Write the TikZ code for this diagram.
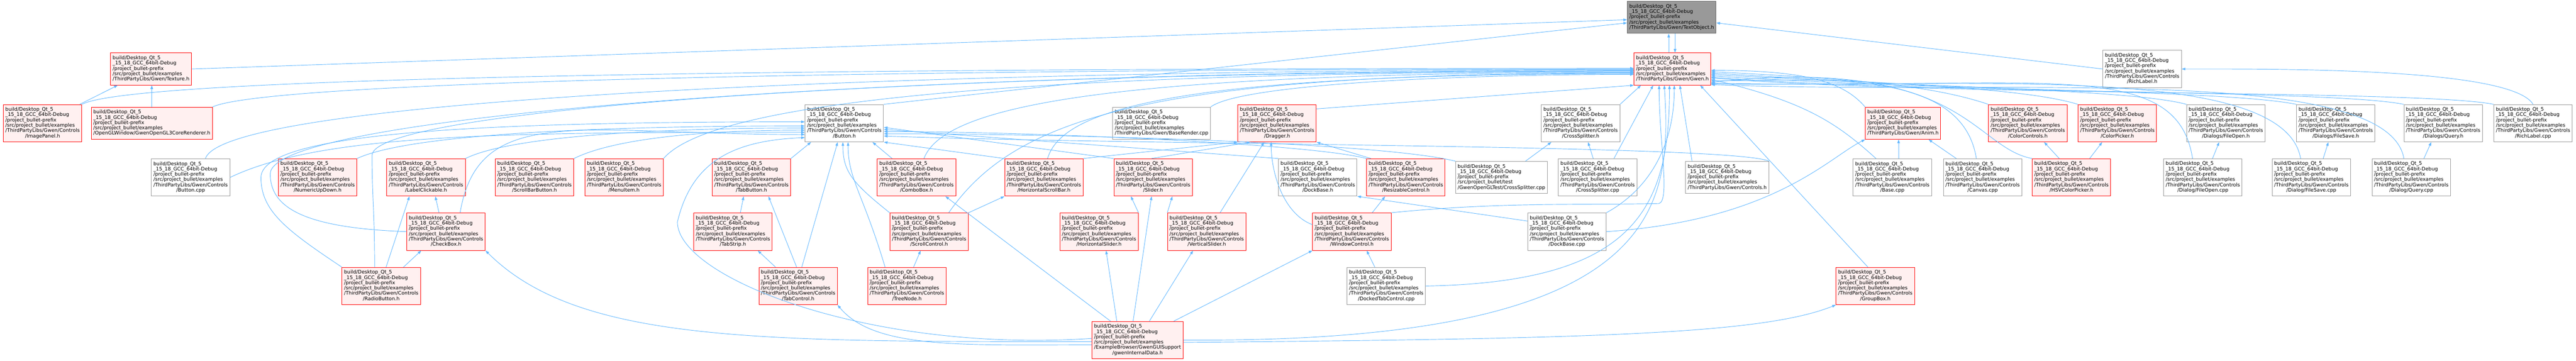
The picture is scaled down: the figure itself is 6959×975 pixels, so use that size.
\documentclass[tikz,border=0pt]{standalone}
\usepackage{fontspec}
\setmainfont{DejaVu Sans}
\usetikzlibrary{arrows.meta}
\definecolor{edgeblue}{HTML}{63B8FF}
\definecolor{nodepink}{HTML}{FFF0F0}
\definecolor{nodegrey}{HTML}{999999}
\definecolor{rootborder}{HTML}{666666}
\newcommand{\gwenfont}{\fontsize{13.3}{14}\selectfont}
\newcommand{\gwenfile}[1]{\begin{tabular}{@{}l@{}}build/Desktop\_Qt\_5\\\_15\_18\_GCC\_64bit-Debug\\/project\_bullet-prefix\\#1\end{tabular}}
\newcommand{\gwenlib}[1]{\gwenfile{/src/project\_bullet/examples\\/ThirdPartyLibs/Gwen/#1}}
\newcommand{\gwenctl}[1]{\gwenfile{/src/project\_bullet/examples\\/ThirdPartyLibs/Gwen/Controls\\\multicolumn{1}{@{}c@{}}{/#1}}}
\tikzset{
  gwenbox/.style={draw=nodegrey, fill=white, line width=1.4pt, inner xsep=5.5pt, inner ysep=7.5pt, font=\gwenfont, text=black},
  gwentrunc/.style={gwenbox, draw=red, fill=nodepink},
  gwenroot/.style={gwenbox, draw=rootborder, fill=nodegrey},
  incl/.style={draw=edgeblue, line width=1.3pt, -{Triangle[length=10pt,width=7pt]}}
}
\begin{document}
\begin{tikzpicture}[x=1pt,y=1pt,yscale=-1,xscale=1]
\useasboundingbox (0,0) rectangle (6959,975);

%Shape: Rectangle [TextObject.h]
\node[gwenroot] (textobj) at (4516,47) {\gwenlib{TextObject.h}};
%Shape: Rectangle [row 1]
\node[gwentrunc] (texture) at (408,186.5) {\gwenlib{Texture.h}};
\node[gwentrunc] (gwen) at (4518,186.5) {\gwenlib{Gwen.h}};
\node[gwenbox] (richlabelh) at (5787,186.5) {\gwenctl{RichLabel.h}};
%Shape: Rectangle [row 2]
\node[gwentrunc] (imagepanel) at (115,333) {\gwenctl{ImagePanel.h}};
\node[gwentrunc] (gl3) at (410,333) {\gwenfile{/src/project\_bullet/examples\\/OpenGLWindow/GwenOpenGL3CoreRenderer.h}};
\node[gwenbox] (buttonh) at (2281,333) {\gwenctl{Button.h}};
\node[gwenbox] (baserendercpp) at (3138,333) {\gwenlib{BaseRender.cpp}};
\node[gwentrunc] (dragger) at (3450,333) {\gwenctl{Dragger.h}};
\node[gwenbox] (crosssplitterh) at (4270,333) {\gwenctl{CrossSplitter.h}};
\node[gwentrunc] (anim) at (5141,333) {\gwenlib{Anim.h}};
\node[gwentrunc] (colorcontrols) at (5478,333) {\gwenctl{ColorControls.h}};
\node[gwentrunc] (colorpicker) at (5720,333) {\gwenctl{ColorPicker.h}};
\node[gwenbox] (fileopenh) at (6013,333) {\gwenctl{Dialogs/FileOpen.h}};
\node[gwenbox] (filesaveh) at (6310,333) {\gwenctl{Dialogs/FileSave.h}};
\node[gwenbox] (queryh) at (6600,333) {\gwenctl{Dialogs/Query.h}};
\node[gwenbox] (richlabelcpp) at (6843,333) {\gwenctl{RichLabel.cpp}};
%Shape: Rectangle [row 3]
\node[gwenbox] (buttoncpp) at (515,479.5) {\gwenctl{Button.cpp}};
\node[gwentrunc] (numericupdown) at (858,479.5) {\gwenctl{NumericUpDown.h}};
\node[gwentrunc] (labelclickable) at (1151,479.5) {\gwenctl{LabelClickable.h}};
\node[gwentrunc] (scrollbarbutton) at (1444,479.5) {\gwenctl{ScrollBarButton.h}};
\node[gwentrunc] (menuitem) at (1686,479.5) {\gwenctl{MenuItem.h}};
\node[gwentrunc] (tabbutton) at (2030,479.5) {\gwenctl{TabButton.h}};
\node[gwentrunc] (combobox) at (2476,479.5) {\gwenctl{ComboBox.h}};
\node[gwentrunc] (hscrollbar) at (2820,479.5) {\gwenctl{HorizontalScrollBar.h}};
\node[gwentrunc] (slider) at (3115,479.5) {\gwenctl{Slider.h}};
\node[gwenbox] (dockbaseh) at (3560,479.5) {\gwenctl{DockBase.h}};
\node[gwentrunc] (resizablecontrol) at (3798,479.5) {\gwenctl{ResizableControl.h}};
\node[gwenbox] (testcrosssplitter) at (4056,479.5) {\gwenfile{/src/project\_bullet/test\\/GwenOpenGLTest/CrossSplitter.cpp}};
\node[gwenbox] (crosssplittercpp) at (4316,479.5) {\gwenctl{CrossSplitter.cpp}};
\node[gwenbox] (controlsh) at (4666,479.5) {\gwenlib{Controls.h}};
\node[gwenbox] (basecpp) at (5112,479.5) {\gwenctl{Base.cpp}};
\node[gwenbox] (canvascpp) at (5356,479.5) {\gwenctl{Canvas.cpp}};
\node[gwentrunc] (hsvcolorpicker) at (5596,479.5) {\gwenctl{HSVColorPicker.h}};
\node[gwenbox] (fileopencpp) at (5951,479.5) {\gwenctl{Dialog/FileOpen.cpp}};
\node[gwenbox] (filesavecpp) at (6244,479.5) {\gwenctl{Dialog/FileSave.cpp}};
\node[gwenbox] (querycpp) at (6514,479.5) {\gwenctl{Dialog/Query.cpp}};
%Shape: Rectangle [row 4]
\node[gwentrunc] (checkbox) at (1205,626) {\gwenctl{CheckBox.h}};
\node[gwentrunc] (tabstrip) at (1980,626) {\gwenctl{TabStrip.h}};
\node[gwentrunc] (scrollcontrol) at (2510,626) {\gwenctl{ScrollControl.h}};
\node[gwentrunc] (hslider) at (2969,626) {\gwenctl{HorizontalSlider.h}};
\node[gwentrunc] (vslider) at (3260,626) {\gwenctl{VerticalSlider.h}};
\node[gwentrunc] (windowcontrol) at (3652,626) {\gwenctl{WindowControl.h}};
\node[gwenbox] (dockbasecpp) at (4233,626) {\gwenctl{DockBase.cpp}};
%Shape: Rectangle [row 5]
\node[gwentrunc] (radiobutton) at (1030,773) {\gwenctl{RadioButton.h}};
\node[gwentrunc] (tabcontrol) at (2156,773) {\gwenctl{TabControl.h}};
\node[gwentrunc] (treenode) at (2450,773) {\gwenctl{TreeNode.h}};
\node[gwenbox] (dockedtabcpp) at (3745,773) {\gwenctl{DockedTabControl.cpp}};
\node[gwentrunc] (groupbox) at (5066,773) {\gwenctl{GroupBox.h}};
%Shape: Rectangle [row 6]
\node[gwentrunc] (gid) at (3073,919) {\gwenfile{/src/project\_bullet/examples\\/ExampleBrowser/GwenGUISupport\\\multicolumn{1}{@{}c@{}}{/gwenInternalData.h}}};

%Coordinates: bends of the long curves
\coordinate (cbpass) at (730,470);
\coordinate (rbpass) at (705,480);
\coordinate (rbvert) at (1005,420);
\coordinate (gidpass) at (1830,600);
\coordinate (wcpass) at (4482,550);

%Edges: TextObject.h
\draw[incl] (texture.east) -- (textobj.183);
\draw[incl] (buttonh.north east) -- (textobj.187);
\draw[incl] (richlabelh.west) -- (textobj.-7);
\draw[incl] ([xshift=-10pt]gwen.north) -- ([xshift=-8pt]textobj.south);
\draw[incl] ([xshift=9pt]textobj.south) -- ([xshift=7pt]gwen.north);

%Edges: Texture.h
\draw[incl] ([xshift=-6pt]imagepanel.north east) -- ([xshift=-90pt]texture.south);
\draw[incl] (gl3.north) -- (gl3.north |- texture.south);

%Edges: Gwen.h from the left
\draw[incl] (imagepanel.north east) .. controls +(150,-80) and +(-2000,0) .. (gwen.179);
\draw[incl] (gl3.north east) .. controls +(150,-70) and +(-2000,0) .. (gwen.180);
\draw[incl] ([xshift=40pt]buttoncpp.north) .. controls +(50,-160) and +(-2000,0) .. (gwen.181);
\draw[incl] (checkbox.west) .. controls +(-280,-10) and +(0,90) .. (cbpass) .. controls +(0,-160) and +(-2000,0) .. (gwen.182);
\draw[incl] ([xshift=-18pt]radiobutton.north) .. controls +(0,-150) and +(0,110) .. (rbvert) .. controls +(0,-120) and +(-2000,0) .. (gwen.183);
\draw[incl] (menuitem.north east) .. controls +(120,-140) and +(-1800,0) .. (gwen.184);
\draw[incl] ([xshift=20pt]combobox.north) .. controls +(50,-130) and +(-1500,0) .. (gwen.185);
\draw[incl] ([xshift=53pt]scrollcontrol.north) .. controls +(180,-260) and +(-1300,0) .. (gwen.186);
\draw[incl] ([xshift=10pt]hscrollbar.north) .. controls +(40,-140) and +(-1200,0) .. (gwen.187);
\draw[incl] (baserendercpp.north east) .. controls +(80,-60) and +(-500,0) .. (gwen.188);
\draw[incl] (dragger.20) -- (gwen.south west);

%Edges: Gwen.h from below
\draw[incl] (crosssplitterh.north east) -- ([xshift=-85pt]gwen.south);
\draw[incl] ([xshift=44pt]crosssplittercpp.north) -- ([xshift=-52pt]gwen.south);
\draw[incl] (windowcontrol.north east) .. controls +(300,-30) and +(-200,5) .. (wcpass) .. controls +(30,-10) and +(0,150) .. ([xshift=-36pt]gwen.south);
\draw[incl] (gid.east) .. controls +(1300,10) and +(20,330) .. ([xshift=-22pt]gwen.south);
\draw[incl] (dockedtabcpp.east) .. controls +(570,-10) and +(0,330) .. ([xshift=-8pt]gwen.south);
\draw[incl] (dockbasecpp.north east) .. controls +(110,-60) and +(0,170) .. ([xshift=5pt]gwen.south);
\draw[incl] ([xshift=-95pt]controlsh.north) -- ([xshift=20pt]gwen.south);
\draw[incl] ([xshift=-20pt]groupbox.north) -- ([xshift=75pt]gwen.south);

%Edges: Gwen.h from the right
\draw[incl] (anim.north west) .. controls +(-60,-70) and +(250,0) .. (gwen.-2);
\draw[incl] (colorcontrols.north west) .. controls +(-150,-50) and +(400,20) .. (gwen.-4);
\draw[incl] (colorpicker.north west) .. controls +(-150,-45) and +(500,30) .. (gwen.-6);
\draw[incl] (fileopenh.north west) .. controls +(-150,-40) and +(600,35) .. (gwen.-8);
\draw[incl] (filesaveh.north west) .. controls +(-200,-40) and +(600,40) .. (gwen.-10);
\draw[incl] (queryh.north west) .. controls +(-200,-40) and +(600,45) .. (gwen.-12);
\draw[incl] (richlabelcpp.north west) .. controls +(-200,-40) and +(600,50) .. (gwen.-13);
\draw[incl] ([xshift=-44pt]basecpp.north) .. controls +(-110,-100) and +(250,60) .. (gwen.-15);
\draw[incl] ([xshift=-17pt]canvascpp.north) .. controls +(-39,-250) and +(280,0) .. (gwen.-17);
\draw[incl] (hsvcolorpicker.north west) .. controls +(-160,-30) and +(680,-72) .. (gwen.-19);
\draw[incl] ([xshift=-28pt]fileopencpp.north) .. controls +(-43,-280) and +(880,20) .. (gwen.-20);
\draw[incl] ([xshift=-29pt]filesavecpp.north) .. controls +(-45,-260) and +(700,10) .. (gwen.-21);
\draw[incl] ([xshift=-20pt]querycpp.north) .. controls +(-45,-260) and +(780,30) .. (gwen.-22);

%Edges: RichLabel, Anim, colour and dialog headers
\draw[incl] (richlabelcpp.north) .. controls +(-60,-100) and +(250,0) .. (richlabelh.east);
\draw[incl] ([xshift=17pt]basecpp.north) -- ([xshift=-12pt]anim.south);
\draw[incl] ([xshift=-71pt]canvascpp.north) -- ([xshift=69pt]anim.south);
\draw[incl] (dockbasecpp.east) .. controls +(450,-30) and +(-100,50) .. (anim.south west);
\draw[incl] ([xshift=-33pt]hsvcolorpicker.north) -- ([xshift=44pt]colorcontrols.south);
\draw[incl] ([xshift=49pt]hsvcolorpicker.north) -- ([xshift=-41pt]colorpicker.south);
\draw[incl] ([xshift=26pt]fileopencpp.north) -- ([xshift=-18pt]fileopenh.south);
\draw[incl] ([xshift=32pt]filesavecpp.north) -- ([xshift=-20pt]filesaveh.south);
\draw[incl] ([xshift=34pt]querycpp.north) -- ([xshift=-32pt]queryh.south);

%Edges: Button.h from the left
\draw[incl] (radiobutton.north west) .. controls +(-150,-100) and +(0,90) .. (rbpass) .. controls +(0,-120) and +(-900,0) .. (buttonh.178);
\draw[incl] (numericupdown.north east) .. controls +(150,-70) and +(-500,0) .. (buttonh.184);
\draw[incl] (labelclickable.north east) .. controls +(120,-60) and +(-400,0) .. (buttonh.187);
\draw[incl] (scrollbarbutton.north east) .. controls +(100,-50) and +(-300,0) .. (buttonh.190);
\draw[incl] (buttoncpp.east) .. controls +(250,-120) and +(-800,0) .. (buttonh.193);
\draw[incl] ([xshift=38pt]checkbox.north) .. controls +(50,-300) and +(-600,0) .. (buttonh.196);
\draw[incl] (gid.178) .. controls +(-600,40) and +(0,150) .. (gidpass) .. controls +(40,-170) and +(-185,8) .. (buttonh.200);

%Edges: Button.h from below
\draw[incl] (tabbutton.north east) -- ([xshift=-90pt]buttonh.south);
\draw[incl] ([xshift=10pt]tabcontrol.north) -- ([xshift=-18pt]buttonh.south);
\draw[incl] (scrollcontrol.north west) .. controls +(-100,-80) and +(0,80) .. ([xshift=-4pt]buttonh.south);
\draw[incl] ([xshift=-59pt]treenode.north) .. controls +(-60,-200) and +(0,100) .. ([xshift=10pt]buttonh.south);
\draw[incl] ([xshift=-66pt]combobox.north) -- ([xshift=76pt]buttonh.south);
\draw[incl] (hscrollbar.north west) -- (buttonh.south east);

%Edges: Button.h from the right
\draw[incl] (slider.north west) -- (buttonh.-6);
\draw[incl] (dockbaseh.north west) -- (buttonh.-9);
\draw[incl] (resizablecontrol.north west) .. controls +(-150,-40) and +(400,0) .. (buttonh.-12);
\draw[incl] (testcrosssplitter.north west) .. controls +(-200,-50) and +(500,0) .. (buttonh.-15);
\draw[incl] (controlsh.north east) .. controls +(-100,-45) and +(700,25) .. (buttonh.-18);

%Edges: Dragger.h and Slider.h
\draw[incl] (hscrollbar.north east) -- (dragger.south west);
\draw[incl] ([xshift=-4pt]slider.north) -- ([xshift=-72pt]dragger.south);
\draw[incl] ([xshift=36pt]vslider.north) -- ([xshift=-35pt]dragger.south);
\draw[incl] (windowcontrol.170) .. controls +(-80,-30) and +(0,80) .. ([xshift=-16pt]dragger.south);
\draw[incl] ([xshift=12pt]resizablecontrol.north west) -- (dragger.south east);
\draw[incl] (hslider.north east) -- ([xshift=-60pt]slider.south);
\draw[incl] (vslider.north west) -- ([xshift=52pt]slider.south);
\draw[incl] ([xshift=-12pt]gid.north) -- ([xshift=-4pt]slider.south);

%Edges: CrossSplitter, DockBase, WindowControl
\draw[incl] ([xshift=65pt]testcrosssplitter.north) -- ([xshift=-79pt]crosssplitterh.south);
\draw[incl] ([xshift=-12pt]crosssplittercpp.north) -- ([xshift=20pt]crosssplitterh.south);
\draw[incl] (dockbasecpp.165) -- (dockbaseh.south east);
\draw[incl] ([xshift=55pt]windowcontrol.north) -- ([xshift=-56pt]resizablecontrol.south);
\draw[incl] ([xshift=-31pt]dockedtabcpp.north) -- ([xshift=40pt]windowcontrol.south);

%Edges: left hand controls
\draw[incl] ([xshift=60pt]radiobutton.north) -- ([xshift=-67pt]checkbox.south);
\draw[incl] ([xshift=13pt]radiobutton.north) -- ([xshift=-45pt]labelclickable.south);
\draw[incl] ([xshift=-19pt]checkbox.north) -- ([xshift=25pt]labelclickable.south);
\draw[incl] ([xshift=20pt]tabstrip.north) -- ([xshift=-21pt]tabbutton.south);
\draw[incl] ([xshift=-61pt]tabcontrol.north) -- ([xshift=67pt]tabstrip.south);
\draw[incl] ([xshift=-4pt]tabcontrol.north) -- ([xshift=46pt]tabbutton.south);
\draw[incl] ([xshift=18pt]treenode.north) -- ([xshift=-23pt]scrollcontrol.south);
\draw[incl] (scrollcontrol.north east) -- (hscrollbar.south west);

%Edges: gwenInternalData.h
\draw[incl] (gid.182) .. controls +(-900,0) and +(250,250) .. (checkbox.south east);
\draw[incl] (gid.186) .. controls +(-350,0) and +(100,120) .. (tabcontrol.south east);
\draw[incl] ([xshift=-73pt]gid.north) -- ([xshift=78pt]combobox.south);
\draw[incl] ([xshift=-56pt]gid.north) -- ([xshift=19pt]hslider.south);
\draw[incl] ([xshift=32pt]gid.north) -- ([xshift=-37pt]vslider.south);
\draw[incl] ([xshift=98pt]gid.north) -- (windowcontrol.south west);
\draw[incl] (gid.-3) .. controls +(1100,-10) and +(-200,80) .. (groupbox.south west);

\end{tikzpicture}
\end{document}
